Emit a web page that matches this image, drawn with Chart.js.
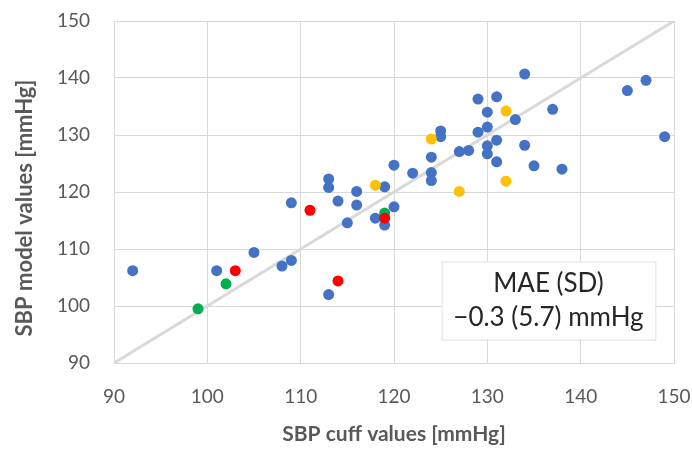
<!DOCTYPE html>
<html>
<head>
<meta charset="utf-8">
<script src="https://cdn.jsdelivr.net/npm/chart.js@4"></script>
<style>
  html, body { margin: 0; padding: 0; background: #fff; }
  #wrap { width: 692px; height: 450px; }
</style>
</head>
<body>
<div id="wrap"><canvas id="chartCanvas" width="692" height="450"></canvas></div>
<script>
// ejes
const xTicks = [90, 100, 110, 120, 130, 140, 150];
const yTicks = [90, 100, 110, 120, 130, 140, 150];

// puntos azules (cuff, model)
const blueX = [120, 113, 113, 116, 119, 109, 114, 116, 120, 115, 118, 119, 105, 109, 108, 92, 101, 113,
  134, 147, 145, 129, 131, 137, 130, 133, 130, 125, 125, 129, 149, 131, 130, 134, 130, 127, 128, 124,
  131, 135, 138, 122, 124, 124];
const blueY = [124.7, 122.3, 120.8, 120.1, 120.9, 118.1, 118.4, 117.7, 117.4, 114.6, 115.4, 114.2, 109.4,
  108.0, 107.0, 106.2, 106.2, 102.0, 140.7, 139.6, 137.8, 136.3, 136.7, 134.5, 134.0, 132.7, 131.4,
  130.7, 129.7, 130.5, 129.7, 129.1, 128.1, 128.2, 126.7, 127.1, 127.3, 126.1, 125.3, 124.6, 124.0,
  123.3, 123.4, 122.0];

const yellowX = [118, 132, 124, 132, 127];
const yellowY = [121.2, 134.2, 129.3, 121.9, 120.1];

const redX = [111, 119, 103, 114];
const redY = [116.8, 115.4, 106.2, 104.4];

const greenX = [119, 102, 99];
const greenY = [116.3, 103.9, 99.5];

// linea de identidad
const lineX = [90, 150];
const lineY = [90, 150];

const maeText = ['MAE (SD)', '\u22120.3 (5.7) mmHg'];

const pares = (xs, ys) => xs.map((x, i) => ({ x: x, y: ys[i] }));

const gris = '#595959';
const rejilla = '#d9d9d9';

function serie(xs, ys, color, orden) {
  return {
    type: 'scatter',
    data: pares(xs, ys),
    backgroundColor: color,
    borderColor: color,
    pointRadius: 5.5,
    pointBorderWidth: 0,
    order: orden
  };
}

// sin relleno extra por las etiquetas de los extremos
function sinRelleno(s) {
  s.paddingLeft = 0; s.paddingRight = 0; s.paddingTop = 0; s.paddingBottom = 0;
}

// cuadro de texto MAE
const cuadroMAE = {
  id: 'cuadroMAE',
  afterDatasetsDraw(chart) {
    const ctx = chart.ctx;
    const xs = chart.scales.x, ys = chart.scales.y;
    const x0 = xs.getPixelForValue(125.1), x1 = xs.getPixelForValue(148.0);
    const y0 = ys.getPixelForValue(107.8), y1 = ys.getPixelForValue(94.1);
    ctx.save();
    ctx.fillStyle = '#ffffff';
    ctx.fillRect(x0, y0, x1 - x0, y1 - y0);
    ctx.strokeStyle = '#e0e0e0';
    ctx.lineWidth = 1;
    ctx.strokeRect(x0 + 0.5, y0 + 0.5, x1 - x0, y1 - y0);
    ctx.fillStyle = '#262626';
    ctx.font = '26px Lato';
    ctx.textAlign = 'center';
    ctx.textBaseline = 'middle';
    const cx = (x0 + x1) / 2;
    ctx.fillText(maeText[0], cx, y0 + 22);
    ctx.fillText(maeText[1], cx, y0 + 56);
    ctx.restore();
  }
};

new Chart(document.getElementById('chartCanvas'), {
  type: 'scatter',
  data: {
    datasets: [
      serie(redX, redY, '#ff0000', 1),
      serie(greenX, greenY, '#00b050', 2),
      serie(yellowX, yellowY, '#ffc000', 3),
      serie(blueX, blueY, '#4472c4', 4),
      {
        type: 'line',
        data: pares(lineX, lineY),
        borderColor: '#d9d9d9',
        borderWidth: 3,
        pointRadius: 0,
        fill: false,
        order: 10
      }
    ]
  },
  options: {
    responsive: false,
    animation: false,
    layout: { padding: { left: 0, right: 18, top: 21, bottom: 0 } },
    plugins: { legend: { display: false }, tooltip: { enabled: false } },
    scales: {
      x: {
        type: 'linear',
        min: 90, max: 150,
        afterBuildTicks: (s) => { s.ticks = xTicks.map(v => ({ value: v })); },
        afterFit: (s) => { s.height = 87; sinRelleno(s); },
        grid: { color: rejilla, lineWidth: 1, drawTicks: false },
        border: { color: rejilla },
        ticks: { color: gris, font: { family: 'Lato', size: 19 }, padding: 22 },
        title: {
          display: true,
          text: 'SBP cuff values [mmHg]',
          color: gris,
          font: { family: 'Lato', size: 21, weight: 'bold' },
          padding: { top: 0, bottom: 3 }
        }
      },
      y: {
        type: 'linear',
        min: 90, max: 150,
        afterBuildTicks: (s) => { s.ticks = yTicks.map(v => ({ value: v })); },
        afterFit: (s) => { s.width = 114; sinRelleno(s); },
        grid: { color: rejilla, lineWidth: 1, drawTicks: false },
        border: { color: rejilla },
        ticks: { color: gris, font: { family: 'Lato', size: 19 }, padding: 24 },
        title: {
          display: true,
          text: 'SBP model values [mmHg]      ',
          color: gris,
          font: { family: 'Lato', size: 22, weight: 'bold' },
          padding: { top: 12, bottom: 0 }
        }
      }
    }
  },
  plugins: [cuadroMAE]
});
</script>
</body>
</html>
